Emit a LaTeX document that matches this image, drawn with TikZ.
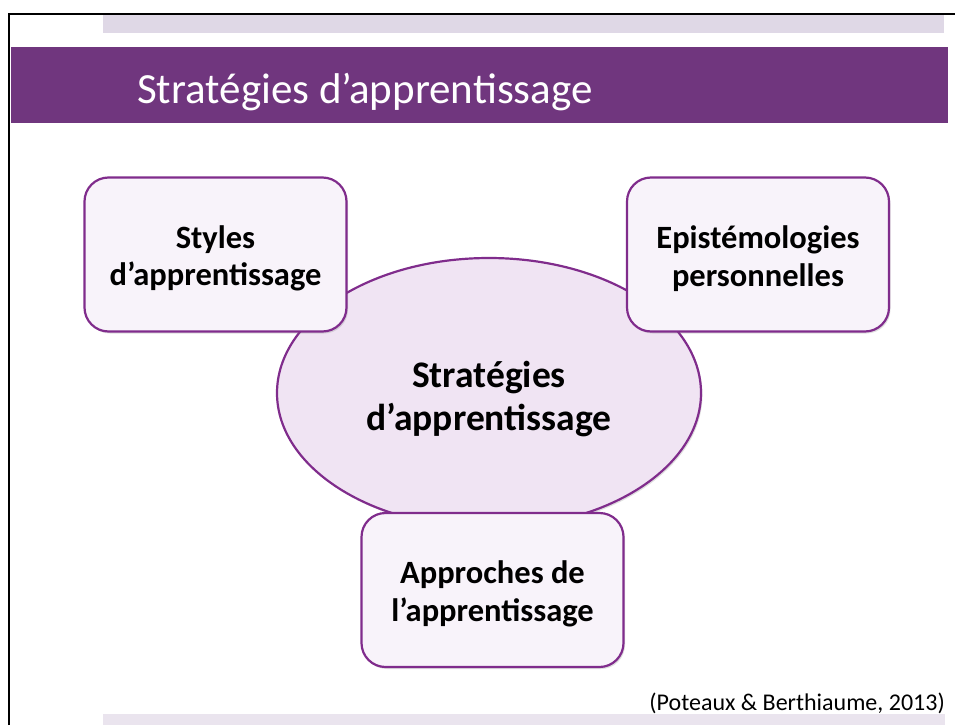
\documentclass[tikz,border=0pt]{standalone}
\usepackage{fontspec}
\setmainfont{Carlito}
\usetikzlibrary{shapes.geometric,shadows}
\definecolor{titlepurple}{RGB}{112,54,126}
\definecolor{barlight}{RGB}{223,216,230}
\definecolor{barlight2}{RGB}{234,228,238}
\definecolor{edgepurple}{RGB}{128,44,140}
\definecolor{boxfill}{RGB}{248,243,250}
\definecolor{ellfill}{RGB}{240,228,243}
\tikzset{
  conceptbox/.style={draw=edgepurple, line width=2.2pt, fill=boxfill, rounded corners=24pt,
    minimum width=262pt, minimum height=154pt, inner sep=0pt,
    drop shadow={shadow xshift=1.5pt, shadow yshift=-2pt, opacity=0.25, fill=gray}},
  boxtext/.style={align=center, inner sep=0pt, font=\fontsize{32.5}{37.5}\selectfont\bfseries},
  centerell/.style={ellipse, draw=edgepurple, line width=2.2pt, fill=ellfill,
    minimum width=424pt, minimum height=270pt, inner sep=0pt,
    drop shadow={shadow xshift=1.5pt, shadow yshift=-2pt, opacity=0.25, fill=gray}},
  elltext/.style={align=center, inner sep=0pt, font=\fontsize{37.5}{43}\selectfont\bfseries},
}
\begin{document}
\begin{tikzpicture}[x=1pt,y=-1pt]
\useasboundingbox (0,0) rectangle (955,725);
% slide frame
\fill[barlight] (103,15) rectangle (944,33);
\fill[barlight2] (103,714) rectangle (945,725);
\draw[black, line width=2pt] (9,725) -- (9,14) -- (955,14);
% title bar
\fill[titlepurple] (11,47) rectangle (948,123);
\node[anchor=base west, text=white, inner sep=0pt, font=\fontsize{43}{48}\selectfont] (title) at (137,103) {Stratégies d’apprentissage};
% center ellipse
\node[centerell] (center) at (489,393) {};
\node[elltext] (centertext) at ([yshift=-6pt]center.center) {Stratégies\\d’apprentissage};
% boxes
\node[conceptbox] (styles) at (215.5,254.5) {};
\node[boxtext] (stylestext) at ([yshift=-4pt]styles.center) {Styles\\d’apprentissage};
\node[conceptbox] (episte) at (758,254.5) {};
\node[boxtext] (epistetext) at ([yshift=-4pt]episte.center) {Epistémologies\\personnelles};
\node[conceptbox] (approches) at (492.5,590) {};
\node[boxtext] (approchestext) at ([yshift=-4pt]approches.center) {Approches de\\l’apprentissage};
% citation
\node[anchor=base east, inner sep=0pt, font=\fontsize{24}{28}\selectfont] (cite) at (945,710) {(Poteaux \& Berthiaume, 2013)};
\end{tikzpicture}
\end{document}
